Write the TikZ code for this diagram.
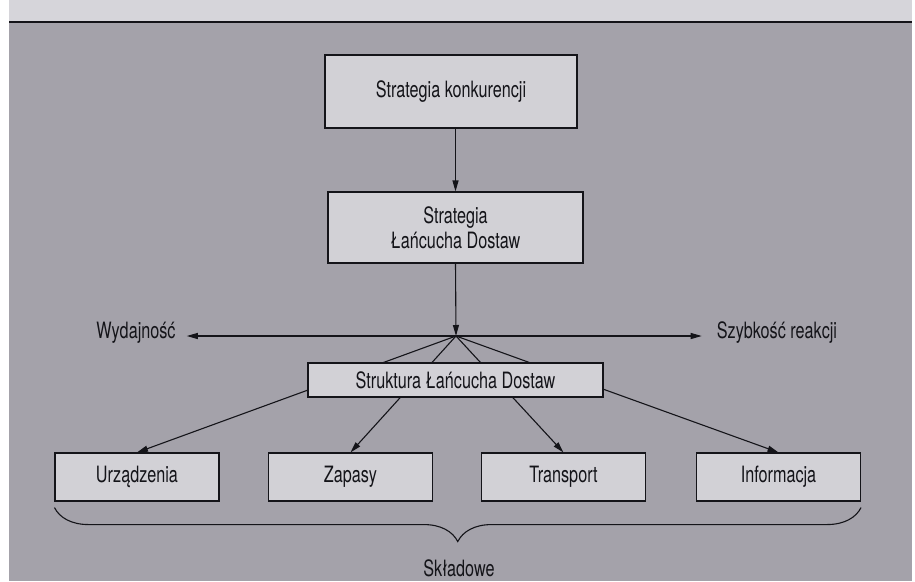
\documentclass[tikz,border=0pt]{standalone}
\usepackage{fontspec}
\setmainfont[FakeStretch=0.72]{TeX Gyre Heros}
\usepackage{xcolor}
\usetikzlibrary{arrows.meta,decorations.pathreplacing}
\definecolor{scan}{RGB}{164,162,170}
\definecolor{strip}{RGB}{214,213,218}
\definecolor{boxfill}{RGB}{210,209,214}
\definecolor{ink}{RGB}{20,20,25}

\begin{document}
\begin{tikzpicture}[x=1pt,y=-1pt,
		box/.style={draw=ink,line width=1.1pt,fill=boxfill,text=ink,inner sep=0pt,align=center,font=\fontsize{22.5}{25}\selectfont},
		lbl/.style={text=ink,inner sep=0pt,font=\fontsize{22.5}{25}\selectfont},
		arr/.style={draw=ink,line width=1.1pt,-{Triangle[length=11pt,width=6pt]}}]
			\useasboundingbox (0,0) rectangle (915,581);
			\fill[white] (0,0) rectangle (915,581);
			\fill[strip] (9,0) rectangle (912,22);
			\fill[scan] (9,22) rectangle (912,581);
			\draw[ink,line width=1.2pt] (9,22) -- (912,22);
			
			\node[box,minimum width=252pt,minimum height=73pt] (konk) at (451,91.5) {Strategia konkurencji};
			\node[box,minimum width=255pt,minimum height=71pt] (sld) at (455.5,227.5) {Strategia\\Łańcucha Dostaw};
			\foreach \n/\x/\t in {urz/137/Urządzenia,zap/350.5/Zapasy,tra/563.5/Transport,inf/778.5/Informacja}{
				\node[box,minimum width=164pt,minimum height=48pt] (\n) at (\x,477) {\t};
			}
			
			\coordinate (apex) at (456,336);
			\foreach \n in {urz,zap,tra,inf}{
				\draw[arr] (apex)--(\n.north);
			}
			\node[box,minimum width=295pt,minimum height=34pt] (struk) at (455.5,380) {Struktura Łańcucha Dostaw};
			
			\draw[arr] (sld.north |- konk.south)--(sld.north);
			\draw[arr] (sld.south)--(apex);
			\node[lbl] (wyd) at (136,333) {Wydajność};
			\node[lbl] (szyb) at (777,333) {Szybkość reakcji};
			\draw[arr] (apex)--([xshift=11pt]wyd.east |- apex);
			\draw[arr] (apex)--([xshift=-15pt]szyb.west |- apex);
			
			\draw[ink,line width=1.1pt,decorate,decoration={brace,mirror,amplitude=34pt}] ([yshift=-6pt]urz.south west)--([yshift=-6pt]inf.south east);
			\node[lbl] (skl) at (459,568) {Składowe};
		\end{tikzpicture}
\end{document}
